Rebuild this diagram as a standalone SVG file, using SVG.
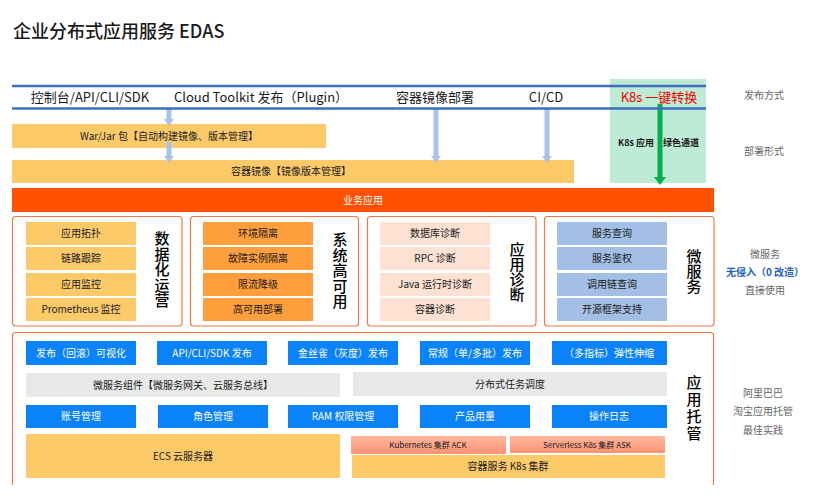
<svg xmlns="http://www.w3.org/2000/svg" width="835" height="499" viewBox="0 0 835 499">
<defs>
<style>
text{font-family:"Noto Sans CJK SC","Liberation Sans",sans-serif;fill:#1a1a1a;}
.c{text-anchor:middle;}
.t13{font-size:13px;}
.t10{font-size:10px;}
.t9{font-size:9px;}
.side{font-size:10px;fill:#666;text-anchor:middle;}
.vert{font-size:15px;text-anchor:middle;font-weight:500;fill:#000;writing-mode:vertical-rl;}
.yel{fill:#FDCA6A;}
.org{fill:#FF9E3D;}
.pch{fill:#FDE1D3;}
.lb{fill:#A3BFE5;}
.bl{fill:#0A82FA;}
.gr{fill:#E8E8E8;}
.sec{fill:#fff;stroke:#F07848;stroke-width:1.2;}
.wt{fill:#fff;font-size:10px;text-anchor:middle;}
.bk{font-size:10px;text-anchor:middle;fill:#1a1a1a;}
.arr{stroke:#A7C3EA;stroke-width:5;fill:none;}
</style>
<linearGradient id="pk" x1="0" y1="0" x2="0" y2="1">
<stop offset="0" stop-color="#FFB69E"/><stop offset="1" stop-color="#FF9474"/>
</linearGradient>
</defs>

<text x="13" y="38" style="font-size:18px;font-weight:500">企业分布式应用服务 EDAS</text>

<g id="k8s-channel">
<rect x="610" y="79" width="96" height="104" fill="#BEEBD5"/>
</g>

<g id="deploy-rows">
<rect class="yel" x="12" y="124" width="314" height="24"/>
<text class="bk" x="169" y="140">War/Jar 包【自动构建镜像、版本管理】</text>
<rect class="yel" x="12" y="160" width="562" height="23"/>
<text class="bk" x="291" y="175">容器镜像【镜像版本管理】</text>
</g>

<g id="connectors">
<path class="arr" d="M169 108V120"/><path d="M164 119h10l-5 7z" fill="#A7C3EA"/>
<path class="arr" d="M169 142V157"/><path d="M164 156h10l-5 7z" fill="#A7C3EA"/>
<path class="arr" d="M436 108V157"/><path d="M431 156h10l-5 7z" fill="#A7C3EA"/>
<path class="arr" d="M547 108V157"/><path d="M542 156h10l-5 7z" fill="#A7C3EA"/>
<path d="M660 104V178" stroke="#00B04A" stroke-width="5" fill="none"/><path d="M654 177h12l-6 8z" fill="#00B04A"/>
</g>

<g id="publish-bar">
<line x1="12" y1="86" x2="706" y2="86" stroke="#3D6EC0" stroke-width="2.5"/>
<line x1="12" y1="108.5" x2="706" y2="108.5" stroke="#3D6EC0" stroke-width="2.5"/>
<text class="t13 c" x="90" y="102">控制台/API/CLI/SDK</text>
<text class="t13 c" x="261" y="102">Cloud Toolkit 发布（Plugin）</text>
<text class="t13 c" x="435" y="102">容器镜像部署</text>
<text class="t13 c" x="546" y="102">CI/CD</text>
<text class="t13 c" x="659" y="102" style="fill:#F20000">K8s 一键转换</text>
<text class="t9 c" x="636" y="146" style="font-weight:bold">K8s 应用</text>
<text class="t9 c" x="681" y="146" style="font-weight:bold">绿色通道</text>
</g>

<g id="labels-right">
<text class="side" x="764" y="99">发布方式</text>
<text class="side" x="764" y="155">部署形式</text>
<text class="side" x="765" y="258">微服务</text>
<text class="side" x="765" y="276" style="fill:#2460C8;font-weight:bold">无侵入（0 改造）</text>
<text class="side" x="765" y="294">直接使用</text>
<text class="side" x="763" y="397">阿里巴巴</text>
<text class="side" x="763" y="415">淘宝应用托管</text>
<text class="side" x="763" y="434">最佳实践</text>
</g>

<g id="biz-app">
<rect x="12" y="188" width="702" height="24" fill="#FF5000"/>
<text class="c" x="363" y="204" style="font-size:10px;fill:#fff">业务应用</text>
</g>

<g id="ops">
<rect class="sec" x="12.5" y="216.5" width="169.5" height="109.5" rx="3"/>
<rect class="yel" x="26" y="222" width="110" height="23"/><text class="bk" x="81" y="237">应用拓扑</text>
<rect class="yel" x="26" y="247" width="110" height="23"/><text class="bk" x="81" y="262">链路跟踪</text>
<rect class="yel" x="26" y="273" width="110" height="23"/><text class="bk" x="81" y="288">应用监控</text>
<rect class="yel" x="26" y="298" width="110" height="23"/><text class="bk" x="81" y="313">Prometheus 监控</text>
<text class="vert" x="162" y="270" style="letter-spacing:0.5px">数据化运营</text>
</g>

<g id="ha">
<rect class="sec" x="190.5" y="216.5" width="168" height="109.5" rx="3"/>
<rect class="org" x="203" y="222" width="110" height="23"/><text class="bk" x="258" y="237">环境隔离</text>
<rect class="org" x="203" y="247" width="110" height="23"/><text class="bk" x="258" y="262">故障实例隔离</text>
<rect class="org" x="203" y="273" width="110" height="23"/><text class="bk" x="258" y="288">限流降级</text>
<rect class="org" x="203" y="298" width="110" height="23"/><text class="bk" x="258" y="313">高可用部署</text>
<text class="vert" x="340" y="271" style="letter-spacing:0.5px">系统高可用</text>
</g>

<g id="diag">
<rect class="sec" x="367.5" y="216.5" width="168.5" height="109.5" rx="3"/>
<rect class="pch" x="380" y="222" width="110" height="23"/><text class="bk" x="435" y="237">数据库诊断</text>
<rect class="pch" x="380" y="247" width="110" height="23"/><text class="bk" x="435" y="262">RPC 诊断</text>
<rect class="pch" x="380" y="273" width="110" height="23"/><text class="bk" x="435" y="288">Java 运行时诊断</text>
<rect class="pch" x="380" y="298" width="110" height="23"/><text class="bk" x="435" y="313">容器诊断</text>
<text class="vert" x="517" y="272">应用诊断</text>
</g>

<g id="micro">
<rect class="sec" x="544.5" y="216.5" width="169.5" height="109.5" rx="3"/>
<rect class="lb" x="557" y="222" width="110" height="23"/><text class="bk" x="612" y="237">服务查询</text>
<rect class="lb" x="557" y="247" width="110" height="23"/><text class="bk" x="612" y="262">服务鉴权</text>
<rect class="lb" x="557" y="273" width="110" height="23"/><text class="bk" x="612" y="288">调用链查询</text>
<rect class="lb" x="557" y="298" width="110" height="23"/><text class="bk" x="612" y="313">开源框架支持</text>
<text class="vert" x="694" y="271">微服务</text>
</g>

<g id="hosting">
<path d="M12.5 485V335.5a3 3 0 0 1 3-3H710.5a3 3 0 0 1 3 3V485" fill="#fff" stroke="#F07848" stroke-width="1.2"/>
<rect class="bl" x="26" y="341" width="110" height="24"/><text class="wt" x="81" y="357">发布（回滚）可视化</text>
<rect class="bl" x="157" y="341" width="110" height="24"/><text class="wt" x="212" y="357">API/CLI/SDK 发布</text>
<rect class="bl" x="288" y="341" width="110" height="24"/><text class="wt" x="343" y="357">金丝雀（灰度）发布</text>
<rect class="bl" x="420" y="341" width="110" height="24"/><text class="wt" x="475" y="357">常规（单/多批）发布</text>
<rect class="bl" x="552" y="341" width="115" height="24"/><text class="wt" x="609" y="357">（多指标）弹性伸缩</text>
<rect class="gr" x="26" y="373" width="314" height="24"/><text class="bk" x="183" y="389">微服务组件【微服务网关、云服务总线】</text>
<rect class="gr" x="353" y="372" width="314" height="24"/><text class="bk" x="510" y="388">分布式任务调度</text>
<rect class="bl" x="26" y="405" width="110" height="23"/><text class="wt" x="81" y="420">账号管理</text>
<rect class="bl" x="158" y="405" width="110" height="23"/><text class="wt" x="213" y="420">角色管理</text>
<rect class="bl" x="288" y="405" width="110" height="23"/><text class="wt" x="343" y="420">RAM 权限管理</text>
<rect class="bl" x="420" y="405" width="110" height="23"/><text class="wt" x="475" y="420">产品用量</text>
<rect class="bl" x="552" y="405" width="115" height="23"/><text class="wt" x="609" y="420">操作日志</text>
<rect class="yel" x="26" y="434" width="314" height="44"/><text class="bk" x="183" y="460">ECS 云服务器</text>
<rect x="351" y="436" width="155" height="18" fill="url(#pk)"/><text class="c" x="428" y="448" style="font-size:8px">Kubernetes 集群 ACK</text>
<rect x="510" y="436" width="155" height="17" fill="url(#pk)"/><text class="c" x="587" y="448" style="font-size:8px">Serverless K8s 集群 ASK</text>
<rect class="yel" x="352" y="455" width="313" height="23"/><text class="bk" x="508" y="470">容器服务 K8s 集群</text>
<text class="vert" x="694" y="409" style="letter-spacing:2px">应用托管</text>
</g>
</svg>
